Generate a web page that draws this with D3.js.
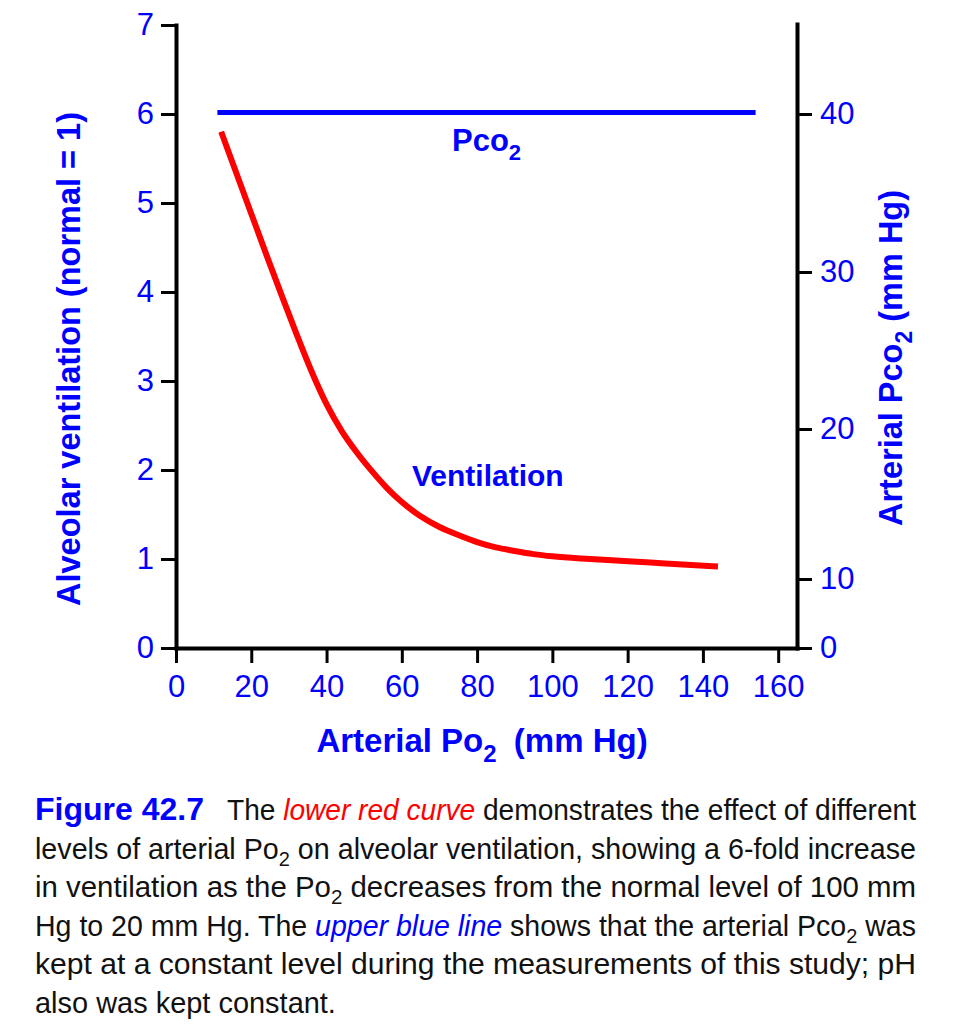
<!DOCTYPE html>
<html>
<head>
<meta charset="utf-8">
<script src="https://cdn.jsdelivr.net/npm/d3@7"></script>
<style>
  body { margin: 0; background: #fff; }
</style>
</head>
<body>
<svg id="chart" width="959" height="1024"></svg>
<script>
// Ventilation curve: arterial Po2 (mm Hg) vs alveolar ventilation (normal = 1)
var po2 = [12, 16, 20, 24, 28, 32, 36, 40, 44, 48, 52, 56, 60, 65, 70, 75, 80, 85, 90, 95, 100, 110, 120, 130, 144];
var ventilation = [5.80, 5.34, 4.88, 4.42, 3.97, 3.53, 3.11, 2.74, 2.44, 2.20, 1.99, 1.80, 1.64, 1.48, 1.36, 1.27, 1.19, 1.13, 1.09, 1.055, 1.03, 1.00, 0.975, 0.95, 0.915];

// Pco2 line (right axis)
var pco2Po2 = [11, 154];
var pco2 = [40.1, 40.1];

// ticks
var xTicks = [0, 20, 40, 60, 80, 100, 120, 140, 160];
var leftTicks = [0, 1, 2, 3, 4, 5, 6, 7];
var rightTicks = [0, 10, 20, 30, 40];

// caption, one array of runs per printed line
var captionHead = "Figure 42.7";
var captionLines = [
    [["The ", "n"], ["lower red curve", "red"], [" demonstrates the effect of different", "n"]],
    [["levels of arterial Po", "n"], ["2", "sub"], [" on alveolar ventilation, showing a 6-fold increase", "n"]],
    [["in ventilation as the Po", "n"], ["2", "sub"], [" decreases from the normal level of 100 mm", "n"]],
    [["Hg to 20 mm Hg. The ", "n"], ["upper blue line", "blue"], [" shows that the arterial Pco", "n"], ["2", "sub"], [" was", "n"]],
    [["kept at a constant level during the measurements of this study; pH", "n"]],
    [["also was kept constant.", "n"]]
];

var BLUE = "#0000ff", RED = "#ff0000";
var FONT = "'Liberation Sans', Arial, Helvetica, sans-serif";

var svg = d3.select("#chart");

/**
 * Scales. The right axis of the original figure is not evenly spaced,
 * so it is a piecewise linear scale.
 */
var x = d3.scaleLinear().domain([0, 165]).range([176, 797]);
var yLeft = d3.scaleLinear().domain([0, 7]).range([648, 25]);
var yRight = d3.scaleLinear().domain([0, 10, 20, 30, 40, 45.7]).range([648, 579, 429, 272, 114, 24]);

function styleAxis(g) {
    g.attr("font-family", FONT).attr("font-size", 31);
    g.select(".domain").attr("stroke", "#000").attr("stroke-width", 4).attr("stroke-linecap", "square");
    g.selectAll(".tick line").attr("stroke", "#000").attr("stroke-width", 3);
    g.selectAll(".tick text").attr("fill", BLUE);
}

var fmt = d3.format("d");

svg.append("g")
    .attr("transform", "translate(0,648)")
    .call(d3.axisBottom(x).tickValues(xTicks).tickFormat(fmt)
          .tickSize(15).tickSizeOuter(0).tickPadding(12))
    .call(styleAxis);

svg.append("g")
    .attr("transform", "translate(176,0)")
    .call(d3.axisLeft(yLeft).tickValues(leftTicks).tickFormat(fmt)
          .tickSize(15).tickSizeOuter(0).tickPadding(7))
    .call(styleAxis);

svg.append("g")
    .attr("transform", "translate(797,0)")
    .call(d3.axisRight(yRight).tickValues(rightTicks).tickFormat(fmt)
          .tickSize(15).tickSizeOuter(0).tickPadding(8))
    .call(styleAxis);

/**
 * Lines.
 */
var pco2Line = d3.line()
    .x(function (d) { return x(d[0]); })
    .y(function (d) { return yRight(d[1]); });
svg.append("path")
    .datum(d3.zip(pco2Po2, pco2))
    .attr("d", pco2Line)
    .attr("fill", "none").attr("stroke", BLUE).attr("stroke-width", 5);

var ventLine = d3.line()
    .curve(d3.curveMonotoneX)
    .x(function (d) { return x(d[0]); })
    .y(function (d) { return yLeft(d[1]); });
svg.append("path")
    .datum(d3.zip(po2, ventilation))
    .attr("d", ventLine)
    .attr("fill", "none").attr("stroke", RED).attr("stroke-width", 6);

/**
 * Append runs of text (normal, subscript, coloured italic) to a text element.
 */
function addRuns(text, runs, subSize, subShift) {
    var wasSub = false;
    runs.forEach(function (r) {
        var t = text.append("tspan").text(r[0]);
        if (r[1] === "sub") {
            t.attr("font-size", subSize).attr("dy", subShift);
            wasSub = true;
            return;
        }
        if (wasSub) t.attr("dy", -subShift);
        wasSub = false;
        if (r[1] === "red") t.attr("fill", RED).attr("font-style", "italic");
        if (r[1] === "blue") t.attr("fill", BLUE).attr("font-style", "italic");
        if (r.length > 2) t.attr("dx", r[2]);
    });
    return text;
}

function label(px, py, runs, size, rotate, anchor) {
    var t = svg.append("text")
        .attr("transform", "translate(" + px + "," + py + ")" + (rotate ? " rotate(-90)" : ""))
        .attr("text-anchor", anchor || "start")
        .attr("font-family", FONT).attr("font-weight", "bold")
        .attr("font-size", size).attr("fill", BLUE);
    return addRuns(t, runs, Math.round(size * 0.72), Math.round(size * 0.3));
}

// axis titles
label(482, 752, [["Arterial Po", "n"], ["2", "sub"], [" (mm Hg)", "n", 8]], 33, false, "middle");
label(80, 359, [["Alveolar ventilation (normal = 1)", "n"]], 32.5, true, "middle");
label(902, 358, [["Arterial Pco", "n"], ["2", "sub"], [" (mm Hg)", "n"]], 32.5, true, "middle");

// in-plot labels
label(452, 151, [["Pco", "n"], ["2", "sub"]], 31, false);
label(412, 486, [["Ventilation", "n"]], 30, false);

/**
 * Caption. Justified lines are fitted to the column width.
 */
var capLeft = 35, capRight = 916, capTop = 820, capStep = 38.6;
svg.append("text")
    .attr("x", capLeft).attr("y", capTop)
    .attr("font-family", FONT).attr("font-weight", "bold")
    .attr("font-size", 32).attr("fill", BLUE)
    .text(captionHead);

var ratios = [];
captionLines.forEach(function (runs, i) {
    var left = i === 0 ? 227 : capLeft;
    var t = svg.append("text")
        .attr("x", left).attr("y", capTop + i * capStep)
        .attr("font-family", FONT).attr("font-size", 30).attr("fill", "#111");
    addRuns(t, runs, 21, 7);
    var natural = t.node().getComputedTextLength();
    if (i < captionLines.length - 1) {
        t.attr("textLength", capRight - left).attr("lengthAdjust", "spacingAndGlyphs");
        ratios.push((capRight - left) / natural);
    } else {
        t.attr("textLength", natural * d3.mean(ratios)).attr("lengthAdjust", "spacingAndGlyphs");
    }
});
</script>
</body>
</html>
